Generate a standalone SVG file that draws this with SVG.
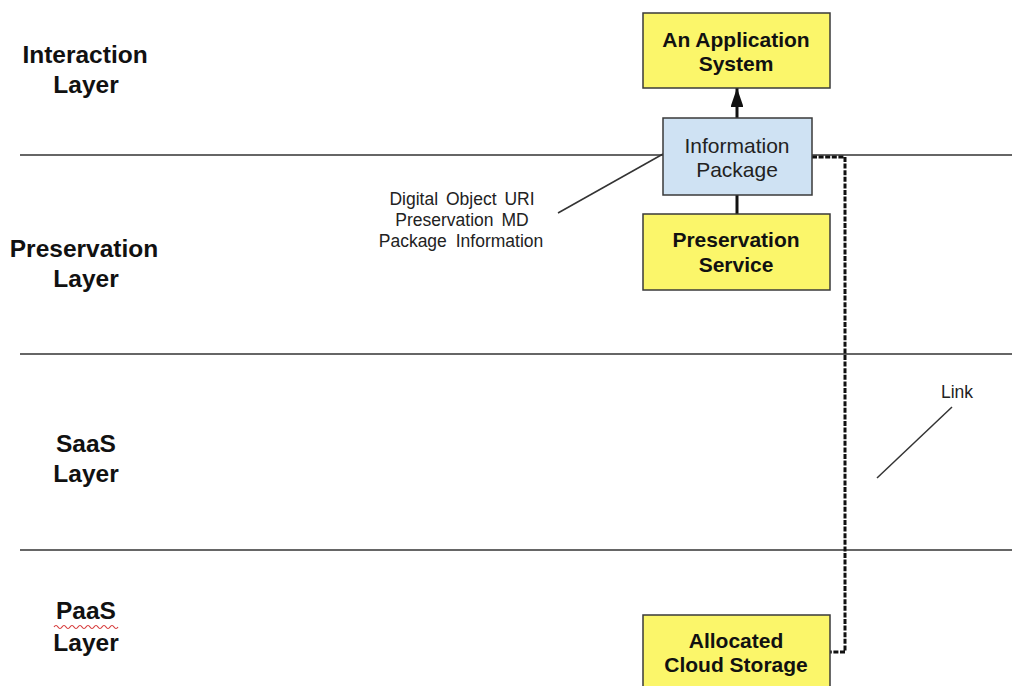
<svg xmlns="http://www.w3.org/2000/svg" width="1012" height="686" viewBox="0 0 1012 686">
  <defs>
    <style>
      .layer { font-family: "Liberation Sans", Arial, sans-serif; font-weight: bold; font-size: 24.5px; fill: #111; text-anchor: middle; }
      .box-y { fill: #fbf66a; stroke: #3a3a3a; stroke-width: 1.5; }
      .box-b { fill: #cfe2f3; stroke: #3a3a3a; stroke-width: 1.5; }
      .btxt { font-family: "Liberation Sans", Arial, sans-serif; font-weight: bold; font-size: 21px; fill: #111; text-anchor: middle; }
      .ntxt { font-family: "Liberation Sans", Arial, sans-serif; font-size: 21px; fill: #222; text-anchor: middle; }
      .note { font-family: "Liberation Sans", Arial, sans-serif; font-size: 17.5px; fill: #222; text-anchor: middle; }
      .sep { stroke: #333; stroke-width: 1.5; fill: none; }
      .thin { stroke: #333; stroke-width: 1.5; fill: none; }
      .solid { stroke: #111; stroke-width: 3; fill: none; }
      .dash { stroke: #111; stroke-width: 3; fill: none; stroke-dasharray: 5 1.6; }
    </style>
    <marker id="arrow" viewBox="0 0 19 13" refX="19" refY="6.5" markerWidth="6.33" markerHeight="4.33" markerUnits="strokeWidth" orient="auto">
      <path d="M0,0 L19,6.5 L0,13 z" fill="#111"/>
    </marker>
  </defs>

  <rect width="1012" height="686" fill="#ffffff"/>

  <!-- layer separators -->
  <g id="separators">
    <line class="sep" x1="20" y1="155" x2="1012" y2="155"/>
    <line class="sep" x1="20" y1="354" x2="1012" y2="354"/>
    <line class="sep" x1="20" y1="550" x2="1012" y2="550"/>
  </g>

  <!-- layer titles -->
  <g id="layer-labels">
    <text class="layer" x="85" y="63">Interaction</text>
    <text class="layer" x="86" y="93">Layer</text>
    <text class="layer" x="84" y="257">Preservation</text>
    <text class="layer" x="86" y="287">Layer</text>
    <text class="layer" x="86" y="452">SaaS</text>
    <text class="layer" x="86" y="482">Layer</text>
    <text class="layer" x="86" y="619">PaaS</text>
    <text class="layer" x="86" y="651">Layer</text>
    <path d="M54,627 q2,-3 4,0 t4,0 t4,0 t4,0 t4,0 t4,0 t4,0 t4,0 t4,0 t4,0 t4,0 t4,0 t4,0 t4,0 t4,0 t4,0" stroke="#d63a3a" stroke-width="1.2" fill="none"/>
  </g>

  <!-- connectors -->
  <g id="connectors">
    <line class="solid" x1="737" y1="118" x2="737" y2="88" marker-end="url(#arrow)"/>
    <line class="solid" x1="737" y1="195" x2="737" y2="214"/>
    <polyline class="dash" points="812,157 845,157 845,652 830,652"/>
    <line class="thin" x1="558" y1="213" x2="663" y2="154"/>
    <line class="thin" x1="877" y1="478" x2="952" y2="407"/>
  </g>

  <g id="node-app">
    <rect class="box-y" x="643" y="13" width="187" height="75"/>
    <text class="btxt" x="736" y="47">An Application</text>
    <text class="btxt" x="736" y="71">System</text>
  </g>

  <g id="node-package">
    <rect class="box-b" x="663" y="118" width="149" height="77"/>
    <text class="ntxt" x="737" y="153">Information</text>
    <text class="ntxt" x="737" y="177">Package</text>
  </g>

  <g id="node-service">
    <rect class="box-y" x="643" y="214" width="187" height="76"/>
    <text class="btxt" x="736" y="247">Preservation</text>
    <text class="btxt" x="736" y="272">Service</text>
  </g>

  <g id="node-storage">
    <rect class="box-y" x="643" y="615" width="187" height="80"/>
    <text class="btxt" x="736" y="648">Allocated</text>
    <text class="btxt" x="736" y="672">Cloud Storage</text>
  </g>

  <g id="note-package">
    <text class="note" x="462" y="205" word-spacing="3">Digital Object URI</text>
    <text class="note" x="462" y="226" word-spacing="3">Preservation MD</text>
    <text class="note" x="461" y="247" word-spacing="4">Package Information</text>
  </g>

  <g id="note-link">
    <text class="note" x="957" y="398">Link</text>
  </g>
</svg>
